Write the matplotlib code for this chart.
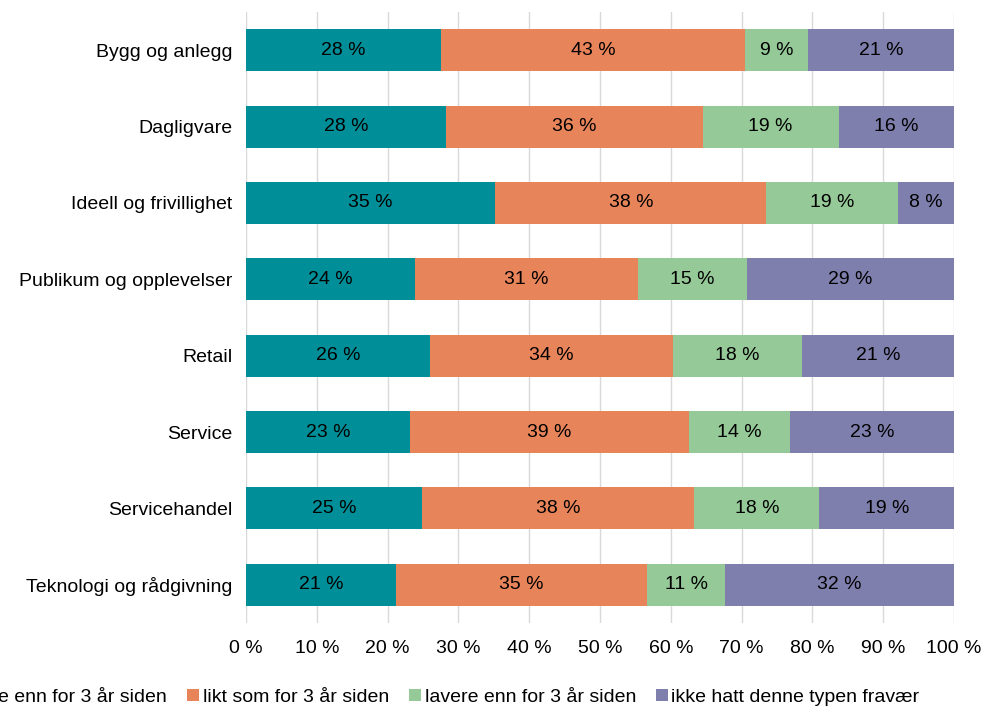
import matplotlib.pyplot as plt
from matplotlib.patches import Patch

plt.rcParams['font.family'] = ['Liberation Sans', 'DejaVu Sans']

categories = [
    "Bygg og anlegg",
    "Dagligvare",
    "Ideell og frivillighet",
    "Publikum og opplevelser",
    "Retail",
    "Service",
    "Servicehandel",
    "Teknologi og rådgivning",
]
series_names = [
    "høyere enn for 3 år siden",
    "likt som for 3 år siden",
    "lavere enn for 3 år siden",
    "ikke hatt denne typen fravær",
]
hoyere = [27.6, 28.2, 35.2, 23.9, 26.0, 23.1, 24.9, 21.2]
likt = [42.9, 36.3, 38.3, 31.4, 34.3, 39.4, 38.4, 35.4]
lavere = [8.9, 19.2, 18.6, 15.4, 18.3, 14.3, 17.7, 11.1]
ikke = [20.6, 16.3, 7.9, 29.3, 21.4, 23.2, 19.0, 32.3]
series = [hoyere, likt, lavere, ikke]
colors = ["#008F98", "#E8845A", "#95C997", "#7F7FAE"]

FS = 14

fig = plt.figure(figsize=(9.85, 7.08), dpi=100)
ax = fig.add_axes([246 / 985, 1 - 623 / 708, 708 / 985, (623 - 12) / 708])

ypos = list(range(len(categories)))
left = [0.0] * len(categories)
for vals, col in zip(series, colors):
    ax.barh(ypos, vals, left=left, height=0.55, color=col, zorder=2)
    for y, l, v in zip(ypos, left, vals):
        ax.text(l + v / 2, y, f"{round(v):d} %", ha="center", va="center",
                fontsize=FS, color="black", zorder=3)
    left = [a + b for a, b in zip(left, vals)]

ax.set_xlim(0, 100)
ax.set_ylim(len(categories) - 0.5, -0.5)
ax.set_yticks(ypos)
ax.set_yticklabels(categories, fontsize=FS)
ax.set_xticks(range(0, 101, 10))
ax.set_xticklabels([f"{t} %" for t in range(0, 101, 10)], fontsize=FS)
ax.tick_params(axis="both", length=0, pad=10)
ax.tick_params(axis="x", pad=12)
ax.grid(axis="x", color="#D9D9D9", linewidth=1, zorder=0)
for s in ax.spines.values():
    s.set_visible(False)

handles = [Patch(facecolor=c) for c in colors]
fig.legend(handles, series_names, loc="center left", ncol=4,
           bbox_to_anchor=(-0.086, 0.016), frameon=False, fontsize=FS,
           handlelength=0.6, handleheight=0.6, handletextpad=0.2,
           columnspacing=1.03)

fig.savefig("out.png", dpi=100)
